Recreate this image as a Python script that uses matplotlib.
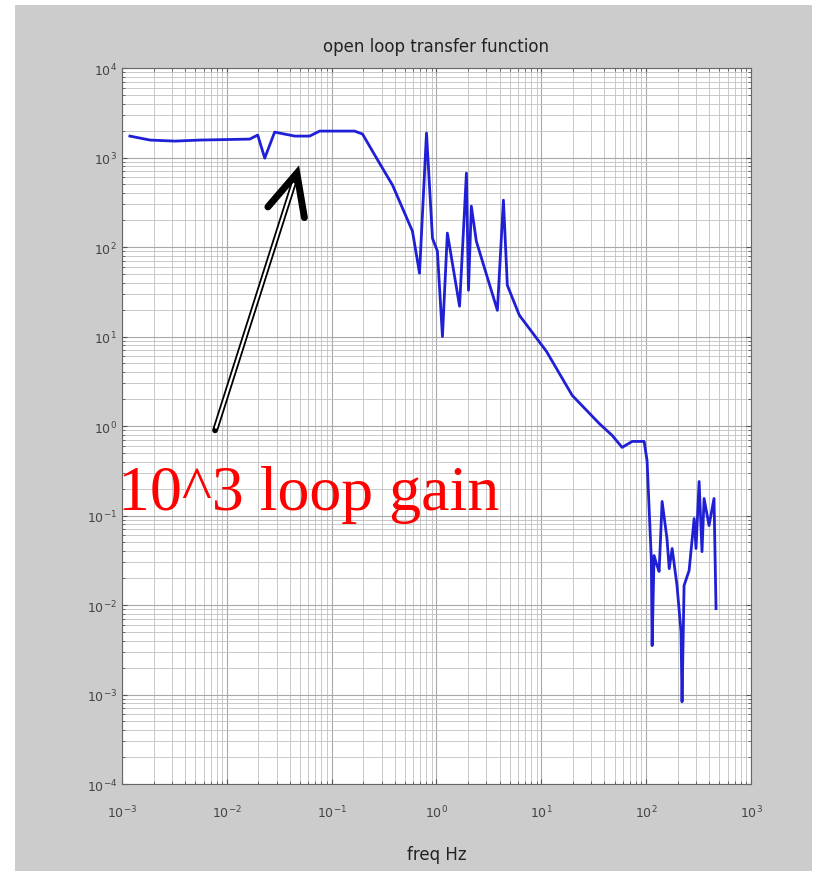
import numpy as np
import matplotlib as mpl
mpl.use("Agg")
import matplotlib.pyplot as plt
from matplotlib.patches import Rectangle

# Open loop transfer function magnitude
freq = [0.00119, 0.00185, 0.0032, 0.00553, 0.01656, 0.0197, 0.0230, 0.0286,
        0.0444, 0.0617, 0.0768, 0.1656, 0.197, 0.286, 0.381, 0.590, 0.689,
        0.803, 0.916, 1.02, 1.14, 1.27, 1.66, 1.93, 2.02, 2.15, 2.40, 3.81,
        4.35, 4.74, 6.17, 11.2, 19.7, 35.6, 47.4, 59.0, 73.6, 95.7, 102, 112,
        114, 119, 127, 133, 142, 158, 166, 177, 197, 215, 220, 230, 257, 287,
        299, 320, 341, 357, 398, 444, 464]
mag = [1735, 1566, 1525, 1566, 1606, 1782, 984, 1923,
       1735, 1735, 1973, 1973, 1828, 865, 491, 150, 51,
       1875, 125, 90, 10.0, 143, 21.8, 669, 32.9, 286, 116, 19.6,
       334, 37.4, 17.3, 6.82, 2.20, 1.07, 0.785, 0.577, 0.673, 0.673, 0.412, 0.033,
       0.00352, 0.0357, 0.0276, 0.0237, 0.1435, 0.0553, 0.0255, 0.0428, 0.0165, 0.00504,
       0.00083, 0.0165, 0.0243, 0.0925, 0.0428, 0.240, 0.0395, 0.155, 0.0773, 0.155,
       0.00912]

xlims = (1e-3, 1e3)
ylims = (1e-4, 1e4)
xticks = [1e-3, 1e-2, 1e-1, 1e0, 1e1, 1e2, 1e3]
xtick_labels = ["$10^{-3}$", "$10^{-2}$", "$10^{-1}$", "$10^{0}$",
                "$10^{1}$", "$10^{2}$", "$10^{3}$"]
yticks = [1e-4, 1e-3, 1e-2, 1e-1, 1e0, 1e1, 1e2, 1e3, 1e4]
ytick_labels = ["$10^{-4}$", "$10^{-3}$", "$10^{-2}$", "$10^{-1}$", "$10^{0}$",
                "$10^{1}$", "$10^{2}$", "$10^{3}$", "$10^{4}$"]

fig = plt.figure(figsize=(8.22, 8.79), dpi=100)
fig.patch.set_facecolor("white")
# gray matlab-style figure window
fig.patches.append(Rectangle((15 / 822, 1 - 872 / 879), 797 / 822, 866 / 879,
                             transform=fig.transFigure, facecolor="#cccccc",
                             edgecolor="none", zorder=-5))

ax = fig.add_axes([0.1484, 0.1069, 0.7652, 0.8146])
ax.set_facecolor("white")
ax.loglog(freq, mag, color="#1f1fd6", lw=2.0, zorder=3)
ax.set_xlim(*xlims)
ax.set_ylim(*ylims)

ax.set_xticks(xticks)
ax.set_xticklabels(xtick_labels)
ax.set_yticks(yticks)
ax.set_yticklabels(ytick_labels)
ax.xaxis.set_minor_locator(mpl.ticker.LogLocator(base=10, subs=np.arange(2, 10), numticks=20))
ax.yaxis.set_minor_locator(mpl.ticker.LogLocator(base=10, subs=np.arange(2, 10), numticks=20))
ax.xaxis.set_minor_formatter(mpl.ticker.NullFormatter())
ax.yaxis.set_minor_formatter(mpl.ticker.NullFormatter())
ax.tick_params(which="both", direction="in", top=True, right=True,
               colors="#555555", labelcolor="#444444", labelsize=9)
ax.tick_params(axis="x", pad=14)
ax.grid(True, which="major", color="#a8a8a8", lw=0.8)
ax.grid(True, which="minor", color="#c0c0c0", lw=0.6)
for sp in ax.spines.values():
    sp.set_color("#666666")
    sp.set_linewidth(0.8)

ax.set_title("open loop transfer function", fontsize=12, color="#222222", pad=12)
ax.set_xlabel("freq Hz", fontsize=12, color="#222222", labelpad=18)

# arrow pointing at the flat low-frequency gain
tip = (0.278, 0.853)
tail = (0.148, 0.494)
ax.annotate("", xy=tip, xycoords="axes fraction", xytext=tail,
            textcoords="axes fraction",
            arrowprops=dict(arrowstyle="-", color="black", lw=4.2,
                            shrinkA=0, shrinkB=4), zorder=5)
ax.annotate("", xy=tip, xycoords="axes fraction", xytext=tail,
            textcoords="axes fraction",
            arrowprops=dict(arrowstyle="-", color="white", lw=1.6,
                            shrinkA=2, shrinkB=8), zorder=6)
ax.plot([0.232, tip[0], 0.290], [0.806, tip[1], 0.791], color="black",
        lw=5, solid_capstyle="round", solid_joinstyle="miter",
        transform=ax.transAxes, zorder=7, clip_on=False)

fig.text(0.1436, 1 - 510 / 879, "10^3 loop gain", color="red",
         fontsize=46, family="Liberation Serif", va="baseline", ha="left",
         zorder=10)

fig.savefig("out.png", dpi=100, facecolor=fig.get_facecolor())
